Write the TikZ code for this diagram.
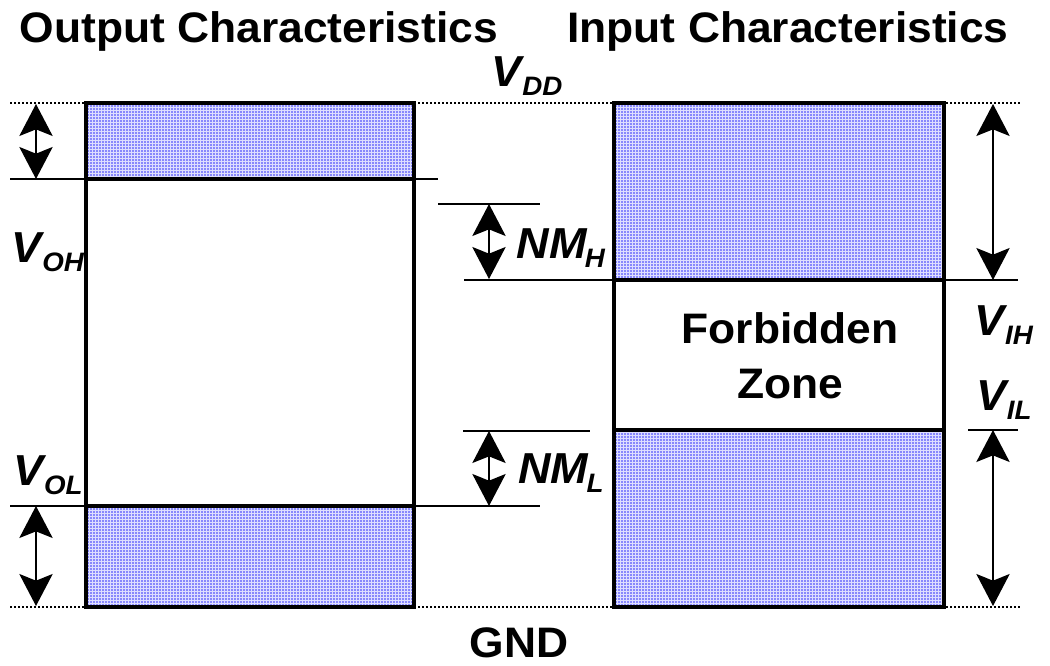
\documentclass[tikz,border=0pt]{standalone}
\usepackage{fontspec}
\setmainfont{Liberation Sans}[FakeStretch=1.04]
\usetikzlibrary{arrows.meta,patterns}
\pgfdeclarepatternformonly{bluedots}{\pgfqpoint{0pt}{0pt}}{\pgfqpoint{2.25pt}{2.25pt}}{\pgfqpoint{2.25pt}{2.25pt}}{\pgfpathrectangle{\pgfqpoint{0.4pt}{0.4pt}}{\pgfqpoint{1.25pt}{1.25pt}}\pgfusepath{fill}}
\definecolor{zonebg}{RGB}{222,222,255}
\definecolor{zonedot}{RGB}{20,20,250}
\newcommand{\vsub}[2]{\textit{#1}\kern-0.06em\raisebox{-7pt}{\fontsize{20}{20}\selectfont\textit{#2}}}
\tikzset{
  hatch/.style={fill=zonebg, postaction={pattern=bluedots, pattern color=zonedot}},
  boxline/.style={draw=black, line width=2.4pt},
  thin/.style={draw=black, line width=1.1pt},
  dotline/.style={draw=black, line width=0.9pt, dash pattern=on 1.3pt off 1.7pt},
  dim/.style={line width=1.1pt, {Stealth[length=24pt,width=25pt,inset=5pt]}-{Stealth[length=24pt,width=25pt,inset=5pt]}},
  title/.style={font=\bfseries\fontsize{32}{36}\selectfont, inner sep=0pt},
  vlab/.style={font=\bfseries\fontsize{32.5}{32.5}\selectfont, inner sep=0pt},
}
\begin{document}
\begin{tikzpicture}[x=0.75pt,y=-0.75pt]
\useasboundingbox (0,0) rectangle (1050,665);
% reference levels
\coordinate (tl) at (10,103);  \coordinate (tr) at (1020,103);
\coordinate (bl) at (10,607);  \coordinate (br) at (1020,607);
\draw[dotline] (tl) -- (tr);
\draw[dotline] (bl) -- (br);
% left box (output)
\fill[hatch] (86,103) rectangle (414,179);
\fill[white] (86,179) rectangle (414,506);
\fill[hatch] (86,506) rectangle (414,607);
\draw[boxline] (86,103) rectangle (414,607);
\draw[boxline] (86,179) -- (414,179);
\draw[boxline] (86,506) -- (414,506);
% right box (input)
\fill[hatch] (614,103) rectangle (944,280);
\fill[white] (614,280) rectangle (944,430);
\fill[hatch] (614,430) rectangle (944,607);
\draw[boxline] (614,103) rectangle (944,607);
\draw[boxline] (614,280) -- (944,280);
\draw[boxline] (614,430) -- (944,430);
% level lines
\coordinate (voh1) at (10,179);  \coordinate (voh2) at (438,179);
\coordinate (vol1) at (10,506);  \coordinate (vol2) at (540,506);
\coordinate (nmh1) at (438,204); \coordinate (nmh2) at (540,204);
\coordinate (vih1) at (464,280); \coordinate (vih2) at (614,280);
\coordinate (vih3) at (944,280); \coordinate (vih4) at (1018,280);
\coordinate (vil1) at (463,431); \coordinate (vil2) at (590,431);
\coordinate (vil3) at (968,430); \coordinate (vil4) at (1018,430);
\draw[thin] (voh1) -- (voh2);
\draw[thin] (vol1) -- (vol2);
\draw[thin] (nmh1) -- (nmh2);
\draw[thin] (vih1) -- (vih2);
\draw[thin] (vih3) -- (vih4);
\draw[thin] (vil1) -- (vil2);
\draw[thin] (vil3) -- (vil4);
% dimension arrows
\coordinate (a1t) at (36,104);  \coordinate (a1b) at (36,179);
\coordinate (a2t) at (36,506);  \coordinate (a2b) at (36,606);
\coordinate (a3t) at (489,204); \coordinate (a3b) at (489,279);
\coordinate (a4t) at (489,431); \coordinate (a4b) at (489,506);
\coordinate (a5t) at (993,104); \coordinate (a5b) at (993,280);
\coordinate (a6t) at (993,430); \coordinate (a6b) at (993,606);
\draw[dim] (a1t) -- (a1b);
\draw[dim] (a2t) -- (a2b);
\draw[dim] (a3t) -- (a3b);
\draw[dim] (a4t) -- (a4b);
\draw[dim] (a5t) -- (a5b);
\draw[dim] (a6t) -- (a6b);
% texts
\node[title] (tout) at (259,31) {Output Characteristics};
\node[title] (tin) at (788,31) {Input Characteristics};
\node[title, align=center, font=\bfseries\fontsize{32}{41}\selectfont] (fz) at (790,356) {Forbidden\\Zone};
\node[title] (gnd) at (519,643) {GND};
\node[vlab] (vdd) at (527,76) {\vsub{V}{DD}};
\node[vlab] (voh) at (48,252) {\vsub{V}{OH}};
\node[vlab] (vol) at (48,475) {\vsub{V}{OL}};
\node[vlab] (nmh) at (561,248) {\vsub{NM}{H}};
\node[vlab] (nml) at (561,473) {\vsub{NM}{L}};
\node[vlab] (vih) at (1004,325) {\vsub{V}{IH}};
\node[vlab] (vil) at (1004,400) {\vsub{V}{IL}};
\end{tikzpicture}
\end{document}
